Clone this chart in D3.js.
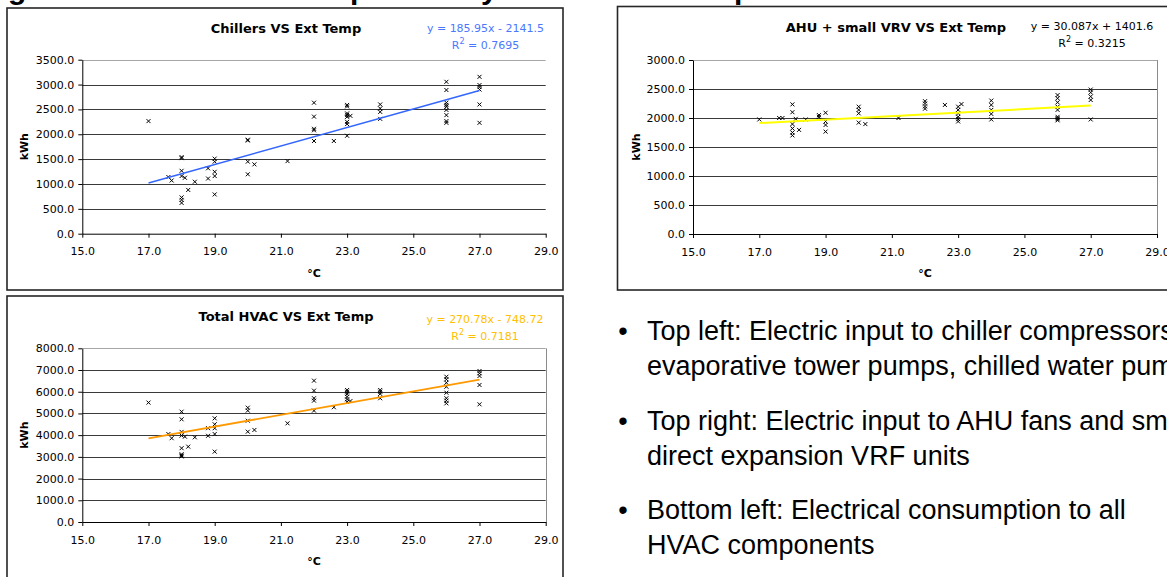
<!DOCTYPE html>
<html>
<head>
<meta charset="utf-8">
<script src="https://cdn.jsdelivr.net/npm/d3@7"></script>
<style>
  body { margin: 0; background: #fff; }
  svg { display: block; }
</style>
</head>
<body>
<svg id="slide" width="1167" height="577"></svg>
<script>
// ---- data ----
const tempTicks = [15, 17, 19, 21, 23, 25, 27, 29];

const chillerTicks = [0, 500, 1000, 1500, 2000, 2500, 3000, 3500];
const chillerTemp = [17, 17.6, 17.7, 18, 18, 18, 18, 18, 18, 18, 18.1, 18.2, 18.4, 18.8, 18.8,
  19, 19, 19, 19, 19, 20, 20, 20, 20, 20.2, 21.2, 22, 22, 22, 22, 22, 22.6,
  23, 23, 23, 23, 23, 23, 23, 23, 23.1, 24, 24, 24, 24,
  26, 26, 26, 26, 26, 26, 26, 26, 26, 27, 27, 27, 27, 27, 27];
const chillerKwh = [2265, 1140, 1070, 1540, 1520, 1265, 1160, 730, 680, 620, 1125, 880, 1045, 1315, 1110,
  1510, 1450, 1245, 1160, 790, 1890, 1875, 1450, 1195, 1395, 1460, 2635, 2355, 2110, 2080, 1865, 1865,
  2590, 2560, 2420, 2390, 2350, 2250, 2205, 1970, 2370, 2600, 2520, 2450, 2310,
  3055, 2890, 2635, 2590, 2555, 2490, 2385, 2265, 2230, 3155, 2990, 2950, 2900, 2600, 2230];
const chillerFit = [185.95, -2141.5, 0.7695];

const ahuTicks = [0, 500, 1000, 1500, 2000, 2500, 3000];
const ahuTemp = [17, 17.6, 17.7, 18, 18, 18, 18, 18, 18, 18.1, 18.2, 18.4, 18.8, 18.8,
  19, 19, 19, 19, 20, 20, 20, 20, 20.2, 21.2, 22, 22, 22, 22, 22.6,
  23, 23, 23, 23, 23, 23, 23.1, 24, 24, 24, 24, 24,
  26, 26, 26, 26, 26, 26, 26, 26, 26, 27, 27, 27, 27, 27];
const ahuKwh = [1975, 2000, 2000, 2235, 2100, 1895, 1820, 1750, 1700, 1985, 1795, 1975, 2050, 2020,
  2090, 1940, 1880, 1765, 2195, 2140, 2080, 1920, 1895, 2000, 2290, 2250, 2200, 2160, 2225,
  2195, 2140, 2080, 2020, 1980, 1940, 2240, 2300, 2225, 2140, 2070, 1975,
  2395, 2340, 2270, 2195, 2140, 2020, 2000, 1980, 1960, 2490, 2440, 2370, 2310, 1975];
const ahuFit = [30.087, 1401.6, 0.3215];

const totalTicks = [0, 1000, 2000, 3000, 4000, 5000, 6000, 7000, 8000];
const totalTemp = [17, 17.6, 17.7, 18, 18, 18, 18, 18, 18, 18, 18, 18.1, 18.2, 18.4, 18.8, 18.8,
  19, 19, 19, 19, 19, 20, 20, 20, 20, 20.2, 21.2, 22, 22, 22, 22, 22, 22.6,
  23, 23, 23, 23, 23, 23, 23.1, 24, 24, 24, 24,
  26, 26, 26, 26, 26, 26, 26, 26, 27, 27, 27, 27, 27];
const totalKwh = [5500, 4050, 3860, 5080, 4730, 4150, 3980, 3400, 3120, 3060, 3020, 3930, 3470, 3900, 4320, 3970,
  4775, 4500, 4320, 4050, 3240, 5265, 5130, 4665, 4160, 4240, 4545, 6510, 6050, 5700, 5590, 5130, 5285,
  6080, 6000, 5900, 5770, 5650, 5530, 5570, 6080, 6000, 5900, 5700,
  6690, 6570, 6415, 6230, 5955, 5700, 5590, 5465, 6955, 6850, 6725, 6310, 5420];
const totalFit = [270.78, -748.72, 0.7181];

const bulletLines = [
  ["Top left: Electric input to chiller compressors,", "evaporative tower pumps, chilled water pumps"],
  ["Top right: Electric input to AHU fans and small", "direct expansion VRF units"],
  ["Bottom left: Electrical consumption to all", "HVAC components"]
];

// ---- drawing ----
const svg = d3.select("#slide");
const TICK_FONT = "'DejaVu Sans', Verdana, sans-serif";
const fmt = d3.format(".1f");

// slide heading, cut off by the top edge (only descenders show)
svg.append("text")
  .attr("y", -1)
  .attr("font-family", "'Liberation Sans', Arial, sans-serif")
  .attr("font-weight", "bold")
  .attr("font-size", 30)
  .selectAll("tspan")
  .data([[8, "g"], [350, "p"], [481, "y"], [734, "p"]])
  .enter().append("tspan")
  .attr("x", d => d[0])
  .text(d => d[1]);

function eqText(fit) {
  const sign = fit[1] < 0 ? " - " : " + ";
  return "y = " + fit[0] + "x" + sign + Math.abs(fit[1]);
}

function drawChart(o) {
  const g = svg.append("g");
  const x = d3.scaleLinear().domain([15, 29]).range([o.x0, o.x1]);
  const y = d3.scaleLinear().domain([0, d3.max(o.ticks)]).range([o.yBot, o.yTop]);

  // outer frame
  g.append("rect")
    .attr("x", o.box[0]).attr("y", o.box[1])
    .attr("width", o.box[2]).attr("height", o.box[3])
    .attr("fill", "#fff")
    .attr("stroke", "#262626")
    .attr("stroke-width", 1.6);

  // gridlines
  g.append("g").selectAll("line")
    .data(o.ticks.slice(1, -1))
    .enter().append("line")
    .attr("x1", o.x0).attr("x2", o.x1)
    .attr("y1", d => Math.round(y(d)) + 0.5).attr("y2", d => Math.round(y(d)) + 0.5)
    .attr("stroke", "#3a3a3a");

  // plot-area border (top, right)
  g.append("line")
    .attr("x1", o.x0).attr("x2", o.x1)
    .attr("y1", Math.round(o.yTop) + 0.5).attr("y2", Math.round(o.yTop) + 0.5)
    .attr("stroke", "#a6a6a6");
  if (o.rightBorder) {
    g.append("line")
      .attr("x1", Math.round(o.x1) + 0.5).attr("x2", Math.round(o.x1) + 0.5)
      .attr("y1", o.yTop).attr("y2", o.yBot)
      .attr("stroke", "#8c8c8c");
  }

  // axes
  const ya = g.append("g")
    .attr("transform", `translate(${o.x0},0)`)
    .call(d3.axisLeft(y).tickValues(o.ticks).tickFormat(fmt).tickSize(4).tickSizeOuter(0).tickPadding(4));
  const xa = g.append("g")
    .attr("transform", `translate(0,${o.yBot})`)
    .call(d3.axisBottom(x).tickValues(tempTicks).tickFormat(fmt).tickSize(4).tickSizeOuter(0).tickPadding(10));
  [ya, xa].forEach(a => {
    a.attr("font-family", TICK_FONT).attr("font-size", 11);
    a.selectAll("text").attr("fill", "#000");
    a.selectAll("line, path").attr("stroke", "#000");
  });

  // markers
  g.append("g").selectAll("path")
    .data(d3.range(o.temps.length))
    .enter().append("path")
    .attr("transform", i => `translate(${x(o.temps[i])},${y(o.kwh[i])})`)
    .attr("d", "M-2,-2L2,2M-2,2L2,-2")
    .attr("stroke", "#000")
    .attr("stroke-width", 1)
    .attr("fill", "none");

  // linear trend from the fitted equation
  const t0 = d3.min(o.temps), t1 = d3.max(o.temps);
  g.append("line")
    .attr("x1", x(t0)).attr("y1", y(o.fit[0] * t0 + o.fit[1]))
    .attr("x2", x(t1)).attr("y2", y(o.fit[0] * t1 + o.fit[1]))
    .attr("stroke", o.lineColor)
    .attr("stroke-width", o.lineWidth);

  // titles
  g.append("text")
    .attr("x", o.titleX).attr("y", o.titleY)
    .attr("text-anchor", "middle")
    .attr("font-family", TICK_FONT)
    .attr("font-weight", "bold")
    .attr("font-size", 13)
    .text(o.title);

  g.append("text")
    .attr("transform", `translate(${o.labelX},${(o.yTop + o.yBot) / 2}) rotate(-90)`)
    .attr("dy", "0.35em")
    .attr("text-anchor", "middle")
    .attr("font-family", TICK_FONT)
    .attr("font-weight", "bold")
    .attr("font-size", 11)
    .text("kWh");

  g.append("text")
    .attr("x", (o.x0 + o.x1) / 2).attr("y", o.yBot + 43)
    .attr("text-anchor", "middle")
    .attr("font-family", TICK_FONT)
    .attr("font-weight", "bold")
    .attr("font-size", 11)
    .text("°C");

  // equation + R²
  const eq = g.append("g")
    .attr("font-family", TICK_FONT)
    .attr("font-size", 11)
    .attr("fill", o.eqColor)
    .attr("text-anchor", "middle");
  eq.append("text").attr("x", o.eqX).attr("y", o.eqY).text(eqText(o.fit));
  const r2 = eq.append("text").attr("x", o.eqX).attr("y", o.eqY + 17);
  r2.append("tspan").text("R");
  r2.append("tspan").attr("dy", -5).attr("font-size", 8).text("2");
  r2.append("tspan").attr("dy", 5).text(" = " + o.fit[2]);
}

drawChart({
  box: [7, 8, 556, 282], x0: 82.3, x1: 545.7, yTop: 59.7, yBot: 233.7,
  ticks: chillerTicks, temps: chillerTemp, kwh: chillerKwh, fit: chillerFit,
  lineColor: "#3366ff", lineWidth: 1.6, eqColor: "#4a78ff",
  title: "Chillers VS Ext Temp", titleX: 286, titleY: 33, eqX: 485.5, eqY: 32,
  labelX: 24, rightBorder: false
});

drawChart({
  box: [617.5, 6.5, 600, 283.5], x0: 693, x1: 1157, yTop: 60, yBot: 234,
  ticks: ahuTicks, temps: ahuTemp, kwh: ahuKwh, fit: ahuFit,
  lineColor: "#ffff00", lineWidth: 2, eqColor: "#000",
  title: "AHU + small VRV VS Ext Temp", titleX: 896, titleY: 32, eqX: 1092, eqY: 30,
  labelX: 636, rightBorder: true
});

drawChart({
  box: [7, 296, 556, 300], x0: 82.3, x1: 545.7, yTop: 348.3, yBot: 522,
  ticks: totalTicks, temps: totalTemp, kwh: totalKwh, fit: totalFit,
  lineColor: "#ff9900", lineWidth: 1.8, eqColor: "#ffc000",
  title: "Total HVAC VS Ext Temp", titleX: 286, titleY: 321, eqX: 485, eqY: 323,
  labelX: 24, rightBorder: true
});

// bullet notes
const notes = svg.append("g")
  .attr("font-family", "'Liberation Sans', Arial, sans-serif")
  .attr("font-size", 27)
  .attr("fill", "#000");
const bulletY = [340, 430, 519];
bulletLines.forEach((lines, i) => {
  notes.append("text")
    .attr("x", 623).attr("y", bulletY[i])
    .attr("text-anchor", "middle")
    .text("•");
  lines.forEach((ln, j) => {
    notes.append("text")
      .attr("x", 647).attr("y", bulletY[i] + j * 34.5)
      .text(ln);
  });
});
</script>
</body>
</html>
